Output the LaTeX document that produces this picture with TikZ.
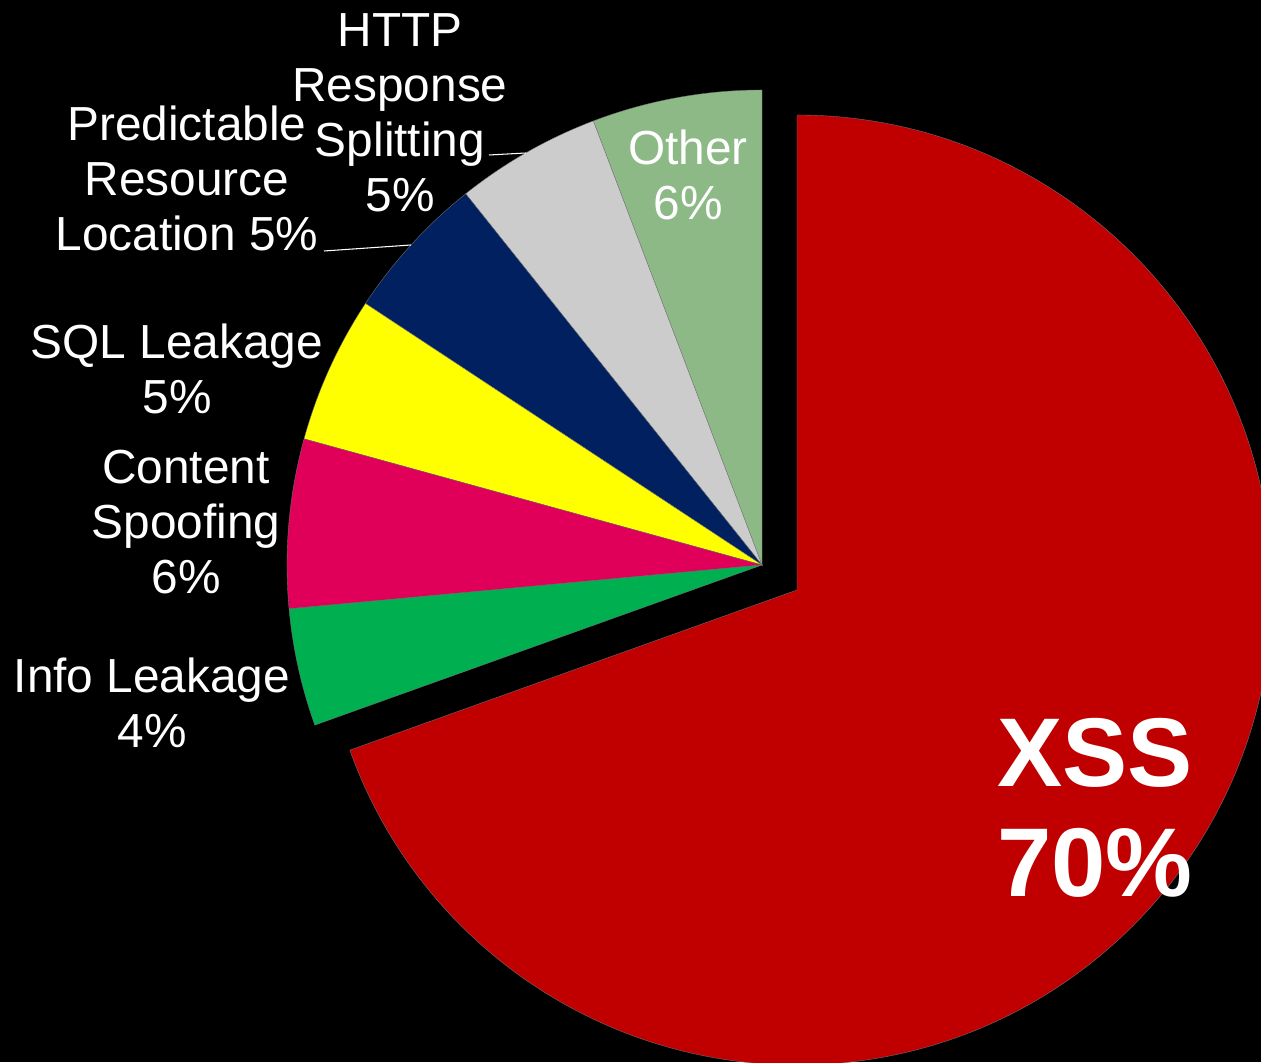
\documentclass[tikz,border=0pt]{standalone}
\usepackage{fontspec}
\setmainfont{Liberation Sans}
\usepackage{tikz}
\usetikzlibrary{positioning,calc}
\definecolor{xssred}{RGB}{192,0,0}
\definecolor{infogreen}{RGB}{0,176,80}
\definecolor{spoofpink}{RGB}{224,0,90}
\definecolor{sqlyellow}{RGB}{255,255,0}
\definecolor{prednavy}{RGB}{0,32,96}
\definecolor{httpgray}{RGB}{204,204,204}
\definecolor{othergreen}{RGB}{140,185,134}
\tikzset{
  slice/.style={draw=black!55, line width=0.2pt},
  lbl/.style={text=white, align=center, anchor=base, inner sep=0pt,
    font=\fontsize{27.2}{31.4}\selectfont},
  biglbl/.style={text=white, align=center, anchor=base, inner sep=0pt,
    font=\fontsize{55.6}{62.6}\selectfont\bfseries},
  leader/.style={draw=white, line width=0.6pt}
}

\begin{document}
\begin{tikzpicture}[x=0.02cm, y=0.02cm]
\fill[black] (0,0) rectangle (1261,1062);
\useasboundingbox (0,0) rectangle (1261,1062);
\clip (0,0) rectangle (1261,1062);
\coordinate (small) at (762,497);
\coordinate (big) at (797,472);
% the exploded slice
\fill[xssred, slice] (big) -- ++(90:475) arc[start angle=90, end angle=-160.3, radius=475] -- cycle;
% the rest of the pie
\foreach \a/\b/\c in {90/110.8/othergreen, 110.8/128.6/httpgray, 128.6/146.6/prednavy,
    146.6/164.6/sqlyellow, 164.6/185.3/spoofpink, 185.3/199.7/infogreen}
  \fill[\c, slice] (small) -- ++(\a:475) arc[start angle=\a, end angle=\b, radius=475] -- cycle;

% labels, placed at the baseline of their last line
\node[biglbl] (xss) at (1095,166) {XSS\\70\%};
\node[lbl] (other) at (688,842) {Other\\6\%};
\node[lbl] (http) at (400,850) {HTTP\\Response\\Splitting\\5\%};
\node[lbl] (pred) at (187,811) {Predictable\\Resource\\Location 5\%};
\node[lbl] (sql) at (177,648) {SQL Leakage\\5\%};
\node[lbl] (spoof) at (186,468) {Content\\Spoofing\\6\%};
\node[lbl] (info) at (152,314) {Info Leakage\\4\%};

\coordinate (httpfoot) at (489,907);
\coordinate (httptip) at (526,909);
\coordinate (predfoot) at (324,811);
\coordinate (predtip) at (411,817);
\path[leader] (httpfoot) -- (httptip);
\path[leader] (predfoot) -- (predtip);
\end{tikzpicture}
\end{document}
